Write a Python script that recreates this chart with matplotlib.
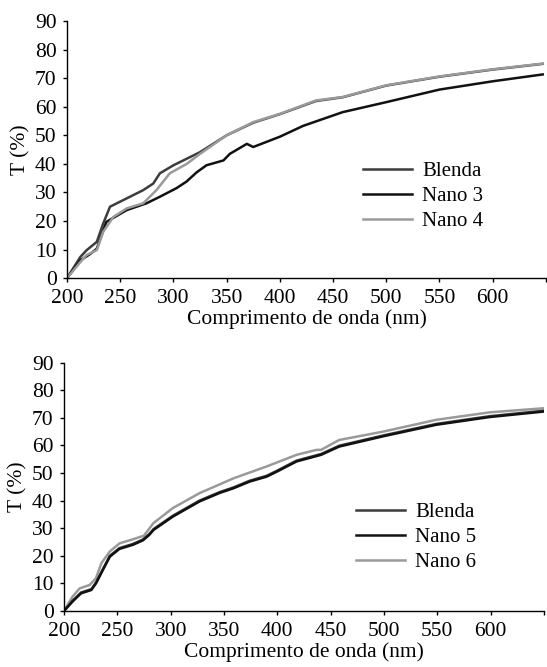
import numpy as np
import matplotlib
matplotlib.use("Agg")
import matplotlib.pyplot as plt

# ------------------------------------------------
# Dados (T % vs comprimento de onda)
# ------------------------------------------------
# painel superior
wl_blenda_a = [200, 212.5, 218.5, 228, 234, 240.4, 256, 271.6, 281, 287.3, 300, 312.5, 325, 350,
               375, 400, 434, 459, 500, 550, 600, 647]
t_blenda_a = [0, 7.4, 9.8, 12.7, 19.1, 25.0, 27.9, 30.8, 33.1, 36.7, 39.5, 41.8, 44.1, 50.0,
              54.4, 57.4, 62.0, 63.3, 67.4, 70.5, 73.0, 75.0]

wl_nano3 = [200, 212.5, 222, 228, 237, 256, 274.7, 287.3, 302.9, 312.3, 321.7, 331, 347, 353,
            369, 375, 400, 421.9, 459, 500, 550, 600, 647]
t_nano3 = [0, 6.2, 8.5, 10.3, 19.7, 23.8, 26.2, 28.5, 31.5, 33.8, 37.0, 39.5, 41.2, 43.5,
           47.0, 45.9, 49.5, 53.3, 58.1, 61.6, 66.0, 68.9, 71.3]

wl_nano4 = [200, 212.5, 218.5, 228, 234, 243.5, 256, 271.6, 284, 296.6, 312.5, 325, 350, 375,
            400, 434, 459, 500, 550, 600, 647]
t_nano4 = [0, 5.6, 8.1, 9.8, 16.2, 21.4, 24.4, 26.2, 30.8, 36.7, 40.0, 43.5, 50.0, 54.6,
           57.5, 62.2, 63.4, 67.5, 70.6, 73.1, 75.1]

# painel inferior
wl_nano5 = [200, 208, 216, 225.6, 230, 236.5, 243, 252, 264.7, 274, 280, 284, 302, 327, 346,
            359, 374, 390, 400, 418, 441, 458, 499, 549, 599, 650]
t_nano5 = [0, 3.4, 6.4, 7.6, 10.0, 14.9, 19.7, 22.5, 24.0, 25.6, 27.6, 29.4, 34.2, 39.7, 42.8,
           44.5, 46.9, 48.7, 50.6, 54.2, 56.6, 59.6, 63.3, 67.5, 70.3, 72.3]

wl_blenda_b = wl_nano5
t_blenda_b = [0, 3.7, 6.7, 7.9, 10.3, 15.2, 20.0, 22.8, 24.3, 25.9, 27.9, 29.7, 34.5, 40.0, 43.1,
              44.8, 47.2, 49.0, 50.9, 54.5, 56.9, 59.9, 63.6, 67.8, 70.6, 72.6]

wl_nano6 = [200, 208, 214.7, 224, 230, 235, 243, 252, 264.7, 275, 283.7, 302, 327, 359, 390,
            418, 436.6, 441, 458, 499, 549, 599, 650]
t_nano6 = [0, 5.2, 8.2, 9.4, 11.9, 17.3, 21.6, 24.5, 26.0, 27.3, 31.8, 37.3, 42.7, 48.1, 52.4,
           56.6, 58.4, 58.4, 62.0, 65.0, 69.3, 72.0, 73.5]

xticks = [200, 250, 300, 350, 400, 450, 500, 550, 600, 650]
xtick_labels = ["200", "250", "300", "350", "400", "450", "500", "550", "600", ""]
yticks = [0, 10, 20, 30, 40, 50, 60, 70, 80, 90]

c_blenda = "#3c3c3c"
c_preto = "#111111"
c_cinza = "#9a9a9a"

plt.rcParams["font.family"] = ["Liberation Serif", "DejaVu Serif"]
plt.rcParams["font.size"] = 15.5

fig = plt.figure(figsize=(5.47, 6.67), dpi=100)
ax1 = fig.add_axes([0.1225, 0.583, 0.8755, 0.3855])
ax2 = fig.add_axes([0.117, 0.084, 0.8775, 0.3722])


def estilo(ax):
    ax.set_xlim(200, 650)
    ax.set_ylim(0, 90)
    ax.set_xticks(xticks)
    ax.set_xticklabels(xtick_labels)
    ax.set_yticks(yticks)
    ax.spines["top"].set_visible(False)
    ax.spines["right"].set_visible(False)
    ax.spines["left"].set_linewidth(1.0)
    ax.spines["bottom"].set_linewidth(1.0)
    ax.tick_params(direction="out", length=3, width=1.0)
    ax.tick_params(axis="x", pad=5)
    ax.tick_params(axis="y", pad=4.5)
    ax.set_xlabel("Comprimento de onda (nm)", labelpad=1)
    ax.set_ylabel("T (%)", labelpad=3)


def legenda(ax, handles, labels, x0, y0):
    ax.legend(handles, labels, loc="upper left", bbox_to_anchor=(x0, y0),
              bbox_transform=fig.transFigure, frameon=False, fontsize=15,
              handlelength=2.35, handletextpad=0.48, labelspacing=0.26,
              borderpad=0, borderaxespad=0)


la, = ax1.plot(wl_blenda_a, t_blenda_a, color=c_blenda, lw=1.8)
lb, = ax1.plot(wl_nano3, t_nano3, color=c_preto, lw=1.8)
lc, = ax1.plot(wl_nano4, t_nano4, color=c_cinza, lw=1.8)
estilo(ax1)
legenda(ax1, [la, lb, lc], ["Blenda", "Nano 3", "Nano 4"], 0.6636, 0.7579)

ld, = ax2.plot(wl_nano6, t_nano6, color=c_cinza, lw=1.8)
le, = ax2.plot(wl_blenda_b, t_blenda_b, color=c_blenda, lw=1.8)
lf, = ax2.plot(wl_nano5, t_nano5, color=c_preto, lw=1.8)
estilo(ax2)
legenda(ax2, [le, lf, ld], ["Blenda", "Nano 5", "Nano 6"], 0.6508, 0.2466)

fig.savefig("out.png", dpi=100)
